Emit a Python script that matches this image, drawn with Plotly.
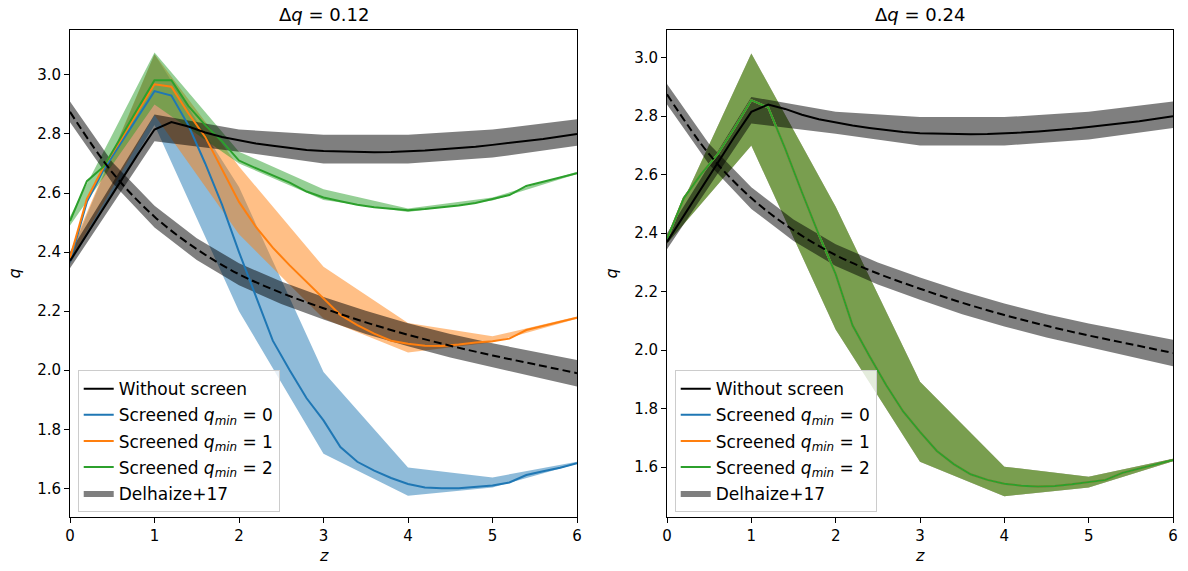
import plotly.graph_objects as go

# ---------------- data ----------------
Z_FINE = [0.0, 0.2, 0.4, 0.6, 0.8, 1.0, 1.2, 1.4, 1.6, 1.8, 2.0, 2.2, 2.4, 2.6, 2.8, 3.0,
          3.2, 3.4, 3.6, 3.8, 4.0, 4.2, 4.4, 4.6, 4.8, 5.0, 5.2, 5.4, 5.6, 5.8, 6.0]
Z_INT = [0, 1, 2, 3, 4, 5, 6]
Z_HALF = [0.0, 0.5, 1.0, 1.5, 2.0, 2.5, 3.0, 3.5, 4.0, 4.5, 5.0, 5.5, 6.0]

# Without screen (black solid) + its Delhaize+17 band
NOSCREEN_Q = [2.37, 2.46, 2.55, 2.64, 2.73, 2.815, 2.84, 2.825, 2.805, 2.79, 2.778, 2.768, 2.76,
              2.752, 2.746, 2.742, 2.74, 2.738, 2.738, 2.739, 2.741, 2.744, 2.748, 2.752, 2.757,
              2.763, 2.769, 2.776, 2.783, 2.791, 2.80]
NOSCREEN_UP = [2.40, 2.866, 2.815, 2.797, 2.797, 2.815, 2.85]
NOSCREEN_LO = [2.345, 2.775, 2.74, 2.70, 2.70, 2.72, 2.76]

# Delhaize+17 relation (black dashed) + band
DELHAIZE_Q = [2.875, 2.67, 2.52, 2.41, 2.325, 2.262, 2.21, 2.162, 2.12, 2.083, 2.05, 2.02, 1.99]
DELHAIZE_UP = [2.91, 2.705, 2.557, 2.447, 2.362, 2.30, 2.248, 2.201, 2.159, 2.123, 2.091, 2.062, 2.035]
DELHAIZE_LO = [2.84, 2.635, 2.483, 2.373, 2.288, 2.224, 2.172, 2.123, 2.081, 2.043, 2.009, 1.978, 1.945]

# Left panel, dq = 0.12
LEFT_Q0 = [2.37, 2.57, 2.68, 2.768, 2.857, 2.945, 2.93, 2.83, 2.70, 2.56, 2.40, 2.25, 2.10, 2.00,
           1.905, 1.83, 1.74, 1.69, 1.66, 1.635, 1.615, 1.603, 1.60, 1.60, 1.605, 1.61, 1.62,
           1.645, 1.658, 1.67, 1.685]
LEFT_Q1 = [2.38, 2.58, 2.69, 2.78, 2.875, 2.968, 2.96, 2.87, 2.79, 2.68, 2.57, 2.485, 2.415,
           2.355, 2.30, 2.245, 2.187, 2.153, 2.124, 2.10, 2.09, 2.083, 2.082, 2.087, 2.094,
           2.098, 2.107, 2.136, 2.15, 2.164, 2.178]
LEFT_Q2 = [2.505, 2.64, 2.69, 2.79, 2.885, 2.982, 2.982, 2.895, 2.83, 2.775, 2.71, 2.684, 2.66,
           2.635, 2.605, 2.585, 2.572, 2.56, 2.552, 2.546, 2.542, 2.546, 2.551, 2.558, 2.566,
           2.58, 2.593, 2.624, 2.638, 2.652, 2.667]
LEFT_Q0_UP = [2.39, 3.07, 2.62, 1.994, 1.671, 1.637, 1.69]
LEFT_Q0_LO = [2.36, 2.83, 2.20, 1.717, 1.575, 1.603, 1.683]
LEFT_Q1_UP = [2.40, 3.07, 2.69, 2.35, 2.16, 2.115, 2.182]
LEFT_Q1_LO = [2.37, 2.864, 2.46, 2.175, 2.06, 2.095, 2.174]
LEFT_Q2_UP = [2.52, 3.076, 2.74, 2.613, 2.548, 2.585, 2.672]
LEFT_Q2_LO = [2.49, 2.90, 2.70, 2.576, 2.536, 2.575, 2.664]

# Right panel, dq = 0.24 (all three screened runs coincide)
RIGHT_Q0 = [2.38, 2.52, 2.60, 2.67, 2.76, 2.855, 2.83, 2.69, 2.54, 2.395, 2.26, 2.085, 1.98,
            1.88, 1.79, 1.72, 1.655, 1.61, 1.575, 1.556, 1.543, 1.536, 1.533, 1.535, 1.541,
            1.548, 1.556, 1.58, 1.595, 1.61, 1.624]
RIGHT_Q1 = RIGHT_Q0
RIGHT_Q2 = RIGHT_Q0
RIGHT_UP = [2.39, 3.015, 2.49, 1.892, 1.601, 1.567, 1.628]
RIGHT_LO = [2.365, 2.70, 2.07, 1.618, 1.50, 1.53, 1.62]

TITLES = ["Δ<i>q</i> = 0.12", "Δ<i>q</i> = 0.24"]
LEGEND_LABELS = ["Without screen",
                 "Screened <i>q</i><sub><i>min</i></sub> = 0",
                 "Screened <i>q</i><sub><i>min</i></sub> = 1",
                 "Screened <i>q</i><sub><i>min</i></sub> = 2",
                 "Delhaize+17"]
X_LABEL = "<i>z</i>"
Y_LABEL = "<i>q</i>"
X_TICKS = [0, 1, 2, 3, 4, 5, 6]
Y_TICKS = [1.6, 1.8, 2.0, 2.2, 2.4, 2.6, 2.8, 3.0]

# ---------------- styling ----------------
BLUE, ORANGE, GREEN = "#1f77b4", "#ff7f0e", "#2ca02c"
BLUE_F, ORANGE_F, GREEN_F = "rgba(31,119,180,0.5)", "rgba(255,127,14,0.5)", "rgba(44,160,44,0.5)"
GRAY_F = "rgba(0,0,0,0.5)"
FONT = "DejaVu Sans"

fig = go.Figure()


def band(x, up, lo, color, xa, ya, name=None, legend=None, show=False, rank=None, grp=None):
    fig.add_trace(go.Scatter(
        x=list(x) + list(x)[::-1], y=list(up) + list(lo)[::-1],
        fill="toself", fillcolor=color, line=dict(width=0), mode="lines",
        hoverinfo="skip", xaxis=xa, yaxis=ya, name=name, showlegend=show,
        legend=legend, legendrank=rank, legendgroup=grp))


def line(x, y, color, xa, ya, name=None, legend=None, show=False, rank=None, grp=None):
    fig.add_trace(go.Scatter(
        x=x, y=y, mode="lines", line=dict(color=color, width=2),
        xaxis=xa, yaxis=ya, name=name, showlegend=show, legend=legend,
        legendrank=rank, legendgroup=grp))


panels = [
    ("x", "y", "legend", [LEFT_Q0, LEFT_Q1, LEFT_Q2],
     [(LEFT_Q0_UP, LEFT_Q0_LO), (LEFT_Q1_UP, LEFT_Q1_LO), (LEFT_Q2_UP, LEFT_Q2_LO)]),
    ("x2", "y2", "legend2", [RIGHT_Q0, RIGHT_Q1, RIGHT_Q2],
     [(RIGHT_UP, RIGHT_LO), (RIGHT_UP, RIGHT_LO), (RIGHT_UP, RIGHT_LO)]),
]

for xa, ya, lg, series, bands in panels:
    for (up, lo), fc in zip(bands, [BLUE_F, ORANGE_F, GREEN_F]):
        band(Z_INT, up, lo, fc, xa, ya)
    band(Z_INT, NOSCREEN_UP, NOSCREEN_LO, GRAY_F, xa, ya,
         name=LEGEND_LABELS[4], legend=lg, show=True, rank=5, grp=lg + "g5")
    band(Z_HALF, DELHAIZE_UP, DELHAIZE_LO, GRAY_F, xa, ya)
    for i, (s, c) in enumerate(zip(series, [BLUE, ORANGE, GREEN])):
        line(Z_FINE, s, c, xa, ya, name=LEGEND_LABELS[i + 1], legend=lg, show=True,
             rank=i + 2, grp=lg + "g" + str(i + 2))
    line(Z_FINE, NOSCREEN_Q, "black", xa, ya, name=LEGEND_LABELS[0], legend=lg, show=True,
         rank=1, grp=lg + "g1")
    fig.add_trace(go.Scatter(x=Z_HALF, y=DELHAIZE_Q, mode="lines", line_shape="spline",
                             line=dict(color="black", width=2, dash="8px,4px"),
                             xaxis=xa, yaxis=ya, showlegend=False))

axis_common = dict(showgrid=False, zeroline=False, showline=True, linecolor="black",
                   linewidth=1, mirror=True, ticks="outside", ticklen=5, tickwidth=1,
                   tickcolor="black", automargin=False,
                   tickfont=dict(family=FONT, size=15, color="black"))

left_dom = [0, 507 / 1103]
right_dom = [597 / 1103, 1.0]

legend_common = dict(y=0.01, xanchor="left", yanchor="bottom",
                     bgcolor="rgba(255,255,255,0.8)", bordercolor="#cccccc", borderwidth=1,
                     font=dict(family=FONT, size=17, color="black"), traceorder="grouped",
                     tracegroupgap=1, itemwidth=30)

fig.update_layout(
    width=1188, height=571,
    margin=dict(l=70, r=15, t=30, b=54, autoexpand=False),
    paper_bgcolor="white", plot_bgcolor="white",
    font=dict(family=FONT, size=15, color="black"),
    xaxis=dict(domain=left_dom, range=[0, 6], tickvals=X_TICKS, anchor="y", **axis_common),
    yaxis=dict(domain=[0, 1], range=[1.503, 3.152], tickvals=Y_TICKS, tickformat=".1f",
               anchor="x", **axis_common),
    xaxis2=dict(domain=right_dom, range=[0, 6], tickvals=X_TICKS, anchor="y2", **axis_common),
    yaxis2=dict(domain=[0, 1], range=[1.429, 3.095], tickvals=Y_TICKS, tickformat=".1f",
                anchor="x2", **axis_common),
    legend=dict(x=0.007, **legend_common),
    legend2=dict(x=right_dom[0] + 0.007, **legend_common),
)

for txt, dom in zip(TITLES, [left_dom, right_dom]):
    cx = (dom[0] + dom[1]) / 2
    fig.add_annotation(text=txt, x=cx, y=1, xref="paper", yref="paper",
                       xanchor="center", yanchor="bottom", yshift=3, showarrow=False,
                       font=dict(family=FONT, size=18, color="black"))
    fig.add_annotation(text=X_LABEL, x=cx, y=0, xref="paper", yref="paper",
                       xanchor="center", yanchor="middle", yshift=-38, showarrow=False,
                       font=dict(family=FONT, size=16, color="black"))
    fig.add_annotation(text=Y_LABEL, x=dom[0], y=0.5, xref="paper", yref="paper",
                       xanchor="center", yanchor="middle", xshift=-56, textangle=-90,
                       showarrow=False, font=dict(family=FONT, size=16, color="black"))

fig.write_html("out.html", config={"displayModeBar": False},
               post_script="document.body.style.margin='0px';")
